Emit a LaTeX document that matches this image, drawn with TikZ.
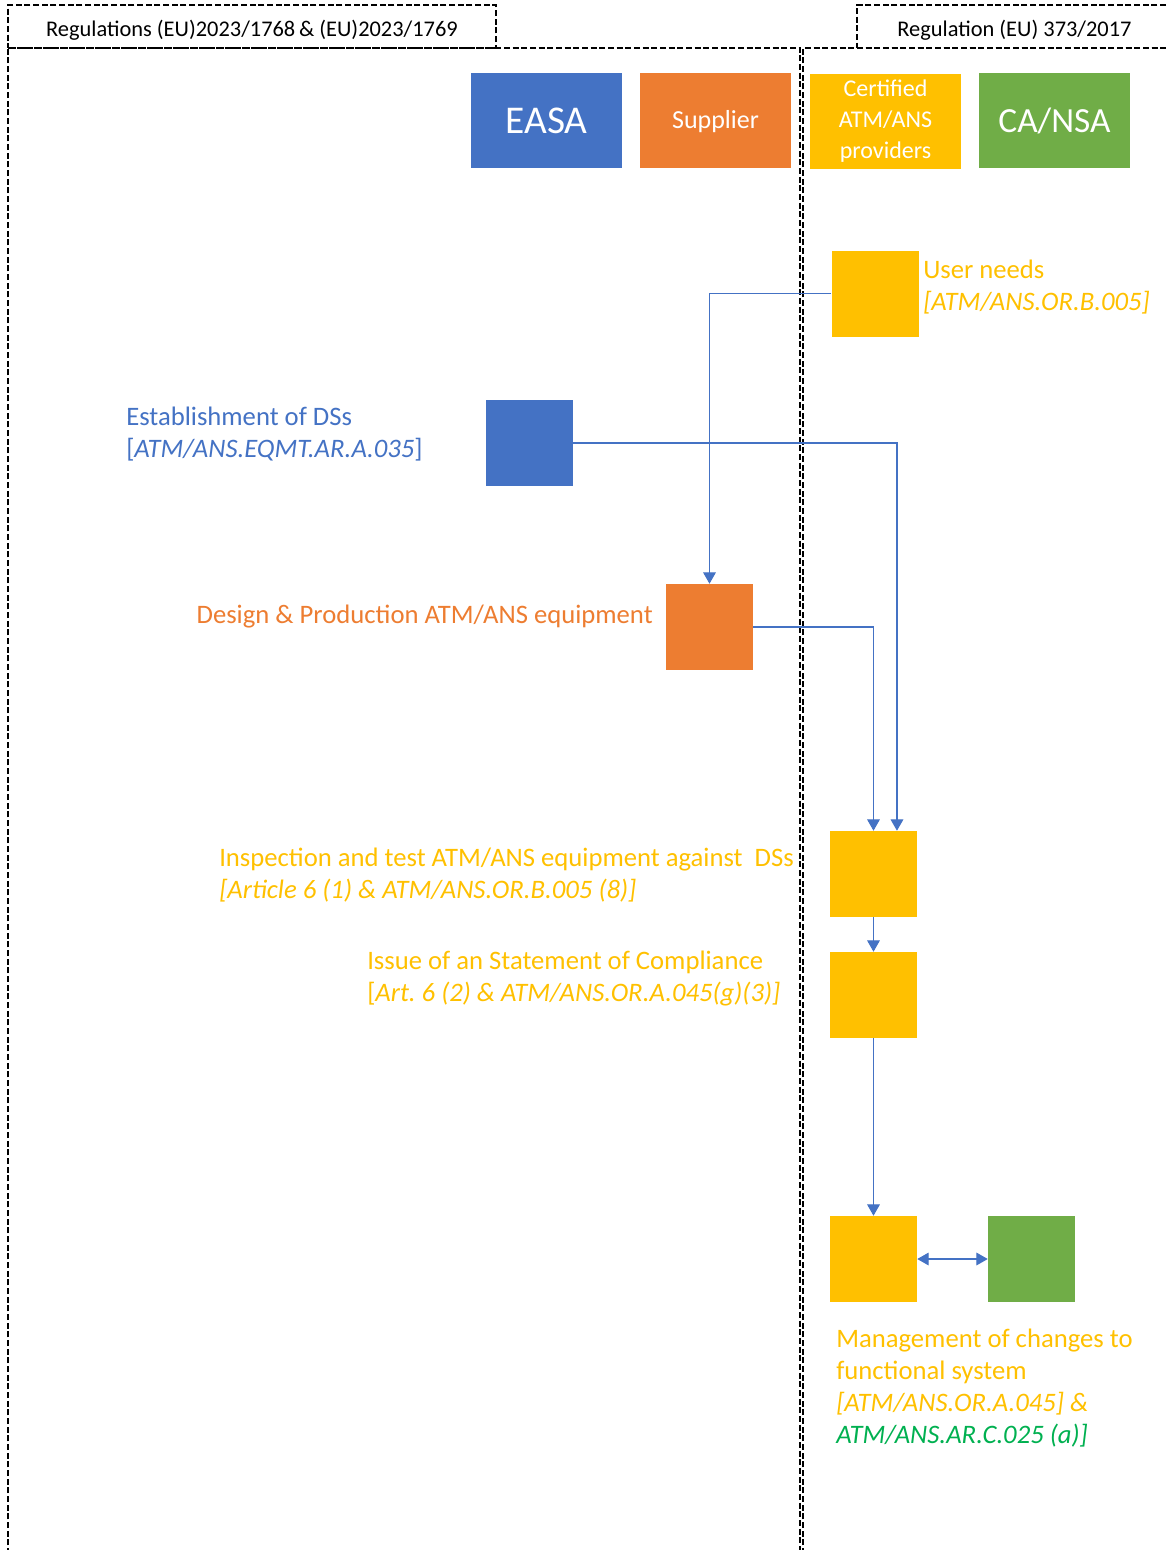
\documentclass[tikz,border=0pt]{standalone}
\usepackage{fontspec}
\setmainfont{Carlito}
\usetikzlibrary{arrows.meta}
\definecolor{easab}{HTML}{4472C4}
\definecolor{supo}{HTML}{ED7D31}
\definecolor{ansy}{HTML}{FFC000}
\definecolor{nsag}{HTML}{70AD47}
\definecolor{txtg}{HTML}{00B050}
\begin{document}
\begin{tikzpicture}[x=0.75pt,y=-0.75pt,
  dsh/.style={draw=black,line width=1.35pt,dash pattern=on 4.5pt off 2pt},
  hdr/.style={dsh,inner sep=0,minimum height=32.25pt,text height=14.5pt,text depth=0pt,font=\fontsize{16.8}{20}\selectfont},
  role/.style={inner sep=0,minimum width=113.25pt,minimum height=71.25pt,text=white,align=center},
  sq/.style={inner sep=0,minimum width=65.25pt,minimum height=64.5pt},
  lbl/.style={inner sep=0,align=left,font=\fontsize{20}{24}\selectfont},
  arr/.style={draw=easab,line width=0.8pt,-{Triangle[width=9.5pt,length=8.5pt]}},
  darr/.style={draw=easab,line width=0.8pt,{Triangle[width=9.5pt,length=8.5pt]}-{Triangle[width=9.5pt,length=8.5pt]}}]
\useasboundingbox (0,0) rectangle (1167,1550);
% regions
\draw[dsh] (8,1554) -- (8,48) -- (800,48) -- (800,1554);
\draw[dsh] (803,1554) -- (803,48) -- (1170,48);
\node[hdr,minimum width=366pt] (regL) at (252,26.5) {Regulations (EU)2023/1768\,\& (EU)2023/1769};
\node[hdr,minimum width=236.25pt] (regR) at (1014.5,26.5) {Regulation (EU) 373/2017};
% role headers
\node[role,fill=easab,font=\fontsize{29.5}{32}\selectfont] (easaH) at (546.5,120.5) {EASA};
\node[role,fill=supo,font=\fontsize{19.5}{24}\selectfont,text height=14pt,text depth=2pt] (supH) at (715.5,120.5) {Supplier};
\node[role,fill=ansy,font=\fontsize{18}{23.5}\selectfont] (ansH) at (885.5,121) {Certified\\ATM/ANS\\providers};
\node[role,fill=nsag,font=\fontsize{26.5}{32}\selectfont] (nsaH) at (1054.5,120.5) {CA/NSA};
% process steps
\node[sq,fill=ansy] (un) at (875,293.5) {};
\node[sq,fill=easab] (easa) at (529.5,443) {};
\node[sq,fill=supo] (sup) at (709.5,627) {};
\node[sq,fill=ansy] (insp) at (873.5,874) {};
\node[sq,fill=ansy] (soc) at (873.5,995) {};
\node[sq,fill=ansy] (mgmt) at (873.5,1259) {};
\node[sq,fill=nsag] (nsa) at (1031.5,1259) {};
% connectors
\draw[arr] (un.west) -| (sup.north);
\draw[arr] (easa.east) -| ([xshift=17.6pt]insp.north);
\draw[arr] (sup.east) -| (insp.north);
\draw[arr] (insp.south) -- (soc.north);
\draw[arr] (soc.south) -- (mgmt.north);
\draw[darr] (mgmt.east) -- (nsa.west);
% labels
\node[lbl,text=ansy,anchor=west] (unL) at (923,287) {User needs\\\textit{[ATM/ANS.OR.B.005]}};
\node[lbl,text=easab,anchor=west] (easaL) at (126,434) {Establishment of DSs\\{[}\textit{ATM/ANS.EQMT.AR.A.035}{]}};
\node[lbl,text=supo,anchor=east] (supL) at (653,617) {Design \& Production ATM/ANS equipment};
\node[lbl,text=ansy,anchor=west] (inspL) at (219,875) {Inspection and test ATM/ANS equipment against\ \ DSs\\\textit{[Article 6 (1) \& ATM/ANS.OR.B.005 (8)]}};
\node[lbl,text=ansy,anchor=west] (socL) at (367,979) {Issue of an Statement of Compliance\\{[}\textit{Art.\ 6 (2) \& ATM/ANS.OR.A.045(g)(3)]}};
\node[lbl,text=ansy,anchor=west] (mgmtL) at (836,1388.5) {Management of changes to\\functional system\\\textit{[ATM/ANS.OR.A.045] \&}\\\textcolor{txtg}{\textit{ATM/ANS.AR.C.025 (a)]}}};
\end{tikzpicture}
\end{document}
